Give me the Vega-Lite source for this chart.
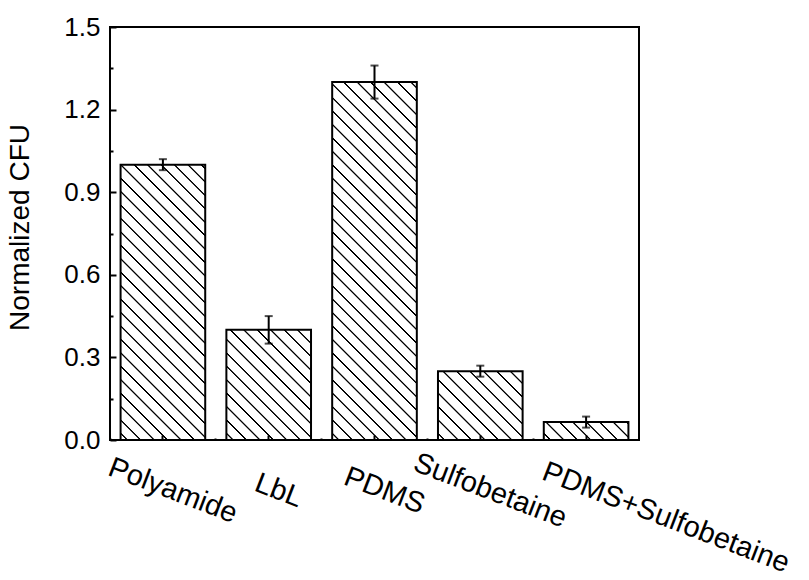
{
  "$schema": "https://vega.github.io/schema/vega-lite/v6.json",
  "width": 529,
  "height": 413,
  "autosize": {"type": "none"},
  "padding": {"left": 110, "top": 27, "right": 170, "bottom": 140},
  "background": "white",
  "config": {
    "view": {"stroke": "black", "strokeWidth": 2},
    "font": "Liberation Sans",
    "axis": {"labelColor": "black", "titleColor": "black", "tickColor": "black", "labelFont": "Liberation Sans", "titleFont": "Liberation Sans"}
  },
  "params": [
    {"name": "hs", "expr": "[{offset:0.0101,color:'#fff'},{offset:0.0114,color:'#000'},{offset:0.0136,color:'#000'},{offset:0.0149,color:'#fff'},{offset:0.0351,color:'#fff'},{offset:0.0364,color:'#000'},{offset:0.0386,color:'#000'},{offset:0.0399,color:'#fff'},{offset:0.0601,color:'#fff'},{offset:0.0614,color:'#000'},{offset:0.0636,color:'#000'},{offset:0.0649,color:'#fff'},{offset:0.0851,color:'#fff'},{offset:0.0864,color:'#000'},{offset:0.0886,color:'#000'},{offset:0.0899,color:'#fff'},{offset:0.1101,color:'#fff'},{offset:0.1114,color:'#000'},{offset:0.1136,color:'#000'},{offset:0.1149,color:'#fff'},{offset:0.1351,color:'#fff'},{offset:0.1364,color:'#000'},{offset:0.1386,color:'#000'},{offset:0.1399,color:'#fff'},{offset:0.1601,color:'#fff'},{offset:0.1614,color:'#000'},{offset:0.1636,color:'#000'},{offset:0.1649,color:'#fff'},{offset:0.1851,color:'#fff'},{offset:0.1864,color:'#000'},{offset:0.1886,color:'#000'},{offset:0.1899,color:'#fff'},{offset:0.2101,color:'#fff'},{offset:0.2114,color:'#000'},{offset:0.2136,color:'#000'},{offset:0.2149,color:'#fff'},{offset:0.2351,color:'#fff'},{offset:0.2364,color:'#000'},{offset:0.2386,color:'#000'},{offset:0.2399,color:'#fff'},{offset:0.2601,color:'#fff'},{offset:0.2614,color:'#000'},{offset:0.2636,color:'#000'},{offset:0.2649,color:'#fff'},{offset:0.2851,color:'#fff'},{offset:0.2864,color:'#000'},{offset:0.2886,color:'#000'},{offset:0.2899,color:'#fff'},{offset:0.3101,color:'#fff'},{offset:0.3114,color:'#000'},{offset:0.3136,color:'#000'},{offset:0.3149,color:'#fff'},{offset:0.3351,color:'#fff'},{offset:0.3364,color:'#000'},{offset:0.3386,color:'#000'},{offset:0.3399,color:'#fff'},{offset:0.3601,color:'#fff'},{offset:0.3614,color:'#000'},{offset:0.3636,color:'#000'},{offset:0.3649,color:'#fff'},{offset:0.3851,color:'#fff'},{offset:0.3864,color:'#000'},{offset:0.3886,color:'#000'},{offset:0.3899,color:'#fff'},{offset:0.4101,color:'#fff'},{offset:0.4114,color:'#000'},{offset:0.4136,color:'#000'},{offset:0.4149,color:'#fff'},{offset:0.4351,color:'#fff'},{offset:0.4364,color:'#000'},{offset:0.4386,color:'#000'},{offset:0.4399,color:'#fff'},{offset:0.4601,color:'#fff'},{offset:0.4614,color:'#000'},{offset:0.4636,color:'#000'},{offset:0.4649,color:'#fff'},{offset:0.4851,color:'#fff'},{offset:0.4864,color:'#000'},{offset:0.4886,color:'#000'},{offset:0.4899,color:'#fff'},{offset:0.5101,color:'#fff'},{offset:0.5114,color:'#000'},{offset:0.5136,color:'#000'},{offset:0.5149,color:'#fff'},{offset:0.5351,color:'#fff'},{offset:0.5364,color:'#000'},{offset:0.5386,color:'#000'},{offset:0.5399,color:'#fff'},{offset:0.5601,color:'#fff'},{offset:0.5614,color:'#000'},{offset:0.5636,color:'#000'},{offset:0.5649,color:'#fff'},{offset:0.5851,color:'#fff'},{offset:0.5864,color:'#000'},{offset:0.5886,color:'#000'},{offset:0.5899,color:'#fff'},{offset:0.6101,color:'#fff'},{offset:0.6114,color:'#000'},{offset:0.6136,color:'#000'},{offset:0.6149,color:'#fff'},{offset:0.6351,color:'#fff'},{offset:0.6364,color:'#000'},{offset:0.6386,color:'#000'},{offset:0.6399,color:'#fff'},{offset:0.6601,color:'#fff'},{offset:0.6614,color:'#000'},{offset:0.6636,color:'#000'},{offset:0.6649,color:'#fff'},{offset:0.6851,color:'#fff'},{offset:0.6864,color:'#000'},{offset:0.6886,color:'#000'},{offset:0.6899,color:'#fff'},{offset:0.7101,color:'#fff'},{offset:0.7114,color:'#000'},{offset:0.7136,color:'#000'},{offset:0.7149,color:'#fff'},{offset:0.7351,color:'#fff'},{offset:0.7364,color:'#000'},{offset:0.7386,color:'#000'},{offset:0.7399,color:'#fff'},{offset:0.7601,color:'#fff'},{offset:0.7614,color:'#000'},{offset:0.7636,color:'#000'},{offset:0.7649,color:'#fff'},{offset:0.7851,color:'#fff'},{offset:0.7864,color:'#000'},{offset:0.7886,color:'#000'},{offset:0.7899,color:'#fff'},{offset:0.8101,color:'#fff'},{offset:0.8114,color:'#000'},{offset:0.8136,color:'#000'},{offset:0.8149,color:'#fff'},{offset:0.8351,color:'#fff'},{offset:0.8364,color:'#000'},{offset:0.8386,color:'#000'},{offset:0.8399,color:'#fff'},{offset:0.8601,color:'#fff'},{offset:0.8614,color:'#000'},{offset:0.8636,color:'#000'},{offset:0.8649,color:'#fff'},{offset:0.8851,color:'#fff'},{offset:0.8864,color:'#000'},{offset:0.8886,color:'#000'},{offset:0.8899,color:'#fff'}]"}
  ],
  "data": {
    "values": [
      {"sample": "Polyamide", "cfu": 1.0, "err": 0.02},
      {"sample": "LbL", "cfu": 0.4, "err": 0.05},
      {"sample": "PDMS", "cfu": 1.3, "err": 0.06},
      {"sample": "Sulfobetaine", "cfu": 0.25, "err": 0.02},
      {"sample": "PDMS+Sulfobetaine", "cfu": 0.065, "err": 0.02}
    ]
  },
  "resolve": {"axis": {"x": "independent", "y": "independent"}},
  "layer": [
    {
      "mark": {"type": "bar", "stroke": "black", "strokeWidth": 2, "width": {"band": 0.8}},
      "encoding": {
        "x": {
          "field": "sample", "type": "nominal", "sort": null,
          "scale": {"paddingInner": 0, "paddingOuter": 0},
          "axis": {
            "orient": "bottom", "title": null, "domain": false, "grid": false,
            "ticks": true, "tickSize": -5, "tickWidth": 2, "zindex": 1,
            "labelFontSize": 29, "labelAngle": 21, "labelAlign": "center", "labelBaseline": "middle",
            "labelOverlap": false, "labelBound": false, "labelFlush": false, "labelLimit": 0,
            "labelPadding": {"condition": {"test": "datum.value === 'PDMS+Sulfobetaine'", "value": 82}, "value": 55},
            "labelOffset": {"condition": {"test": "datum.value === 'PDMS+Sulfobetaine'", "value": 80}, "value": 10}
          }
        },
        "y": {
          "field": "cfu", "type": "quantitative",
          "scale": {"domain": [0, 1.5], "nice": false, "zero": true},
          "axis": {
            "orient": "left", "title": "Normalized CFU", "titleFontSize": 28, "titleFontWeight": "normal",
            "titlePadding": 29, "titleY": 200, "values": [0, 0.3, 0.6, 0.9, 1.2, 1.5], "format": ".1f",
            "domain": false, "grid": false, "tickSize": -6, "tickWidth": 2, "zindex": 1,
            "labelFontSize": 26, "labelPadding": 16
          }
        },
        "fill": {
          "field": "sample", "type": "nominal", "legend": null,
          "scale": {
            "domain": ["Polyamide", "LbL", "PDMS", "Sulfobetaine", "PDMS+Sulfobetaine"],
            "range": [
              {"expr": "{gradient:'linear',x1:0,y1:1,x2:0.5482,y2:-0.7833,stops:hs}"},
              {"expr": "{gradient:'linear',x1:0,y1:1,x2:2.3576,y2:-2.0677,stops:hs}"},
              {"expr": "{gradient:'linear',x1:0,y1:1,x2:0.3362,y2:-0.4219,stops:hs}"},
              {"expr": "{gradient:'linear',x1:0,y1:1,x2:3.8217,y2:-2.1080,stops:hs}"},
              {"expr": "{gradient:'linear',x1:0,y1:1,x2:6.0775,y2:-0.2851,stops:hs}"}
            ]
          }
        }
      }
    },
    {
      "mark": {
        "type": "errorbar", "color": "black",
        "rule": {"strokeWidth": 2},
        "ticks": {"size": 8, "thickness": 2}
      },
      "encoding": {
        "x": {
          "field": "sample", "type": "nominal", "sort": null,
          "axis": {
            "orient": "bottom", "title": null, "domain": false, "grid": false, "labels": false,
            "ticks": true, "tickSize": -2, "tickWidth": 2, "bandPosition": 0, "zindex": 1
          }
        },
        "y": {
          "field": "cfu", "type": "quantitative",
          "scale": {"domain": [0, 1.5], "nice": false, "zero": true},
          "axis": {
            "orient": "left", "title": null, "values": [0.15, 0.45, 0.75, 1.05, 1.35],
            "domain": false, "grid": false, "labels": false, "tickSize": -3, "tickWidth": 2, "zindex": 1
          }
        },
        "yError": {"field": "err"}
      }
    }
  ]
}
